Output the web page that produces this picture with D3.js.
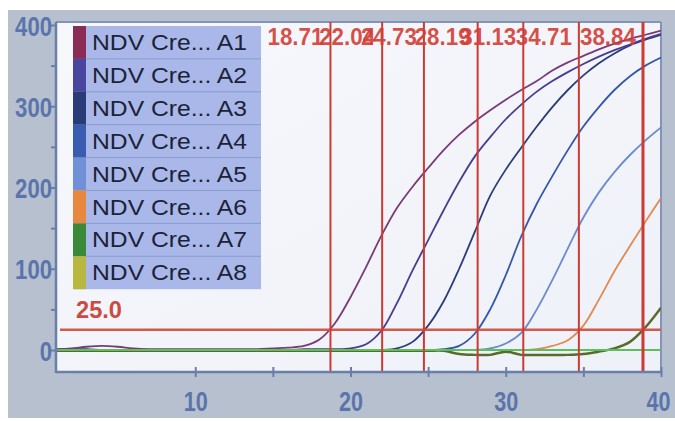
<!DOCTYPE html>
<html>
<head>
<meta charset="utf-8">
<script src="https://cdn.jsdelivr.net/npm/d3@7/dist/d3.min.js"></script>
<style>
  html, body { margin: 0; padding: 0; background: #ffffff; }
  svg { display: block; }
</style>
</head>
<body>
<svg id="chart" width="675" height="421"></svg>
<script>
// ---------------- DATA ----------------
const cycles = d3.range(1, 41);
const seriesNames = ["A1", "A2", "A3", "A4", "A5", "A6", "A7", "A8"];
const legendPrefix = "NDV Cre... ";

const a1 = [1,2,4,5,4,2,1,1,1,1,1,1,1,1,2,3,5,13,33,65,102,141,175,201,224,246,265,281,295,308,320,331,344,354,362,370,377,383,388,393];
const a2 = [0,0,0,0,0,0,0,0,0,0,0,0,0,0,0,0,1,1,1,2,7,24,58,98,135,172,207,238,262,284,302,318,331,342,352,361,369,376,383,389];
const a3 = [1,1,1,0,0,0,0,0,0,0,0,0,0,0,0,0,0,0,0,0,0,0,2,10,30,60,100,145,190,222,249,275,299,320,338,353,365,375,382,388];
const a4 = [0,0,0,0,0,0,0,0,0,0,0,0,0,0,0,0,0,0,0,0,0,0,0,0,0,1,5,20,50,92,140,180,214,246,275,299,320,337,350,360];
const a5 = [0,0,0,0,0,0,0,0,0,0,0,0,0,0,0,0,0,0,0,0,0,0,0,0,0,0,0,0,2,8,21,50,86,125,163,194,219,240,258,274];
const a6 = [0,0,0,0,0,0,0,0,0,0,0,0,0,0,0,0,0,0,0,0,0,0,0,0,0,0,0,0,0,0,0,1,5,12,30,62,97,128,158,187];
const a7 = [0,0,0,0,0,0,0,0,0,0,0,0,0,0,0,0,0,0,0,0,0,0,0,0,0,0,0,0,0,0,0,0,0,0,0,0,0,0,0,0];
const a8 = [-1,-1,-1,-1,-1,-1,-1,-1,-1,-1,-1,-1,-1,-1,-1,-1,-1,-1,-1,-1,-1,-1,-1,-1,-1,-1,-5,-6,-6,-2,-6,-6,-6,-6,-5,-2,2,10,28,52];

const seriesValues = [a1, a2, a3, a4, a5, a6, a7, a8];

const swatchColors = ["#8a2c55", "#4a46a0", "#2a3c78", "#3a5cb0", "#7090d8", "#e8883e", "#3a8a3a", "#b8b840"];
const lineColors   = ["#7a3a78", "#4a3c90", "#2c3c78", "#3458a8", "#6a8ad0", "#e08a50", "#5cbf5c", "#5a6a2a"];

const ctValues = [18.71, 22.04, 24.73, 28.19, 31.13, 34.71, 38.84];
const ctLabels = ["18.71", "22.04", "24.73", "28.19", "31.13", "34.71", "38.84"];
const threshold = 25.0;
const thresholdLabel = "25.0";

const yTickValues = [0, 50, 100, 150, 200, 250, 300, 350, 400];
const yTickLabels = [0, 100, 200, 300, 400];
const xTickValues = [10, 15, 20, 25, 30, 35, 40];
const xTickLabels = [10, 20, 30, 40];

// ---------------- LAYOUT ----------------
const svg = d3.select("#chart");
const plot = { left: 56, right: 661, top: 22, bottom: 372 };

const x = d3.scaleLinear().domain([1, 40]).range([55.5, 661]);
const y = d3.scaleLinear().domain([0, 400]).range([350, 25]);

const axisColor = "#6a7eaa";
const labelColor = "#5a74ac";
const redColor = "#cc3b33";

// background
svg.append("rect").attr("x", 0).attr("y", 0).attr("width", 675).attr("height", 421).attr("fill", "#ffffff");
svg.append("rect").attr("x", 8).attr("y", 10).attr("width", 667).attr("height", 408).attr("fill", "#b7c0ce");

const defs = svg.append("defs");
const grad = defs.append("linearGradient").attr("id", "pbg")
  .attr("x1", 0).attr("y1", 0).attr("x2", 1).attr("y2", 1);
grad.append("stop").attr("offset", "0%").attr("stop-color", "#f7f8fc");
grad.append("stop").attr("offset", "100%").attr("stop-color", "#eef1f8");

svg.append("rect")
  .attr("x", plot.left).attr("y", plot.top)
  .attr("width", plot.right - plot.left).attr("height", plot.bottom - plot.top)
  .attr("fill", "url(#pbg)");

defs.append("clipPath").attr("id", "clip")
  .append("rect").attr("x", plot.left).attr("y", plot.top)
  .attr("width", plot.right - plot.left).attr("height", plot.bottom - plot.top);

// borders top/right
svg.append("line").attr("x1", plot.left).attr("x2", plot.right).attr("y1", plot.top).attr("y2", plot.top)
  .attr("stroke", "#8494b8").attr("stroke-width", 2);
svg.append("line").attr("x1", plot.right).attr("x2", plot.right).attr("y1", plot.top).attr("y2", plot.bottom)
  .attr("stroke", "#8494b8").attr("stroke-width", 2);

const g = svg.append("g").attr("clip-path", "url(#clip)");

// curves
const line = d3.line()
  .x((d, i) => x(cycles[i]))
  .y(d => y(d))
  .curve(d3.curveCatmullRom.alpha(0.5));

// draw order: A8, A6..A1, then A7 flat line on top
const order = [7, 5, 4, 3, 2, 1, 0, 6];
order.forEach(k => {
  g.append("path")
    .datum(seriesValues[k])
    .attr("d", line)
    .attr("fill", "none")
    .attr("stroke", lineColors[k])
    .attr("stroke-width", k === 7 ? 2.5 : 1.8);
});

// threshold line
g.append("line")
  .attr("x1", plot.left + 4).attr("x2", plot.right)
  .attr("y1", y(threshold)).attr("y2", y(threshold))
  .attr("stroke", "#d05a4c").attr("stroke-width", 2.5);

// Ct vertical lines
ctValues.forEach((v, i) => {
  g.append("line")
    .attr("x1", x(v)).attr("x2", x(v))
    .attr("y1", plot.top).attr("y2", plot.bottom)
    .attr("stroke", redColor)
    .attr("stroke-width", i === ctValues.length - 1 ? 3 : 2);
});

// Ct labels
ctLabels.forEach((t, i) => {
  svg.append("text")
    .attr("x", x(ctValues[i]) - 7)
    .attr("y", 45)
    .attr("text-anchor", "end")
    .attr("font-family", "'Liberation Sans', Arial, sans-serif")
    .attr("font-weight", "bold")
    .attr("font-size", 23)
    .attr("textLength", 56)
    .attr("lengthAdjust", "spacingAndGlyphs")
    .attr("fill", "#d23f36")
    .attr("fill-opacity", 0.92)
    .text(t);
});

// threshold label
svg.append("text")
  .attr("x", 76).attr("y", 318)
  .attr("font-family", "'Liberation Sans', Arial, sans-serif")
  .attr("font-weight", "bold")
  .attr("font-size", 23)
  .attr("textLength", 46)
  .attr("lengthAdjust", "spacingAndGlyphs")
  .attr("fill", "#cc4a40")
  .text(thresholdLabel);

// axes
const yAxis = d3.axisLeft(y)
  .tickValues(yTickValues)
  .tickSize(5)
  .tickFormat(d => yTickLabels.includes(d) ? String(d) : "");
const yg = svg.append("g").attr("transform", `translate(${plot.left},0)`).call(yAxis);
yg.select(".domain").remove();
yg.selectAll(".tick line").attr("stroke", axisColor).attr("stroke-width", 2);
yg.selectAll(".tick text")
  .attr("x", -4)
  .attr("dy", null)
  .attr("y", 10)
  .attr("fill", labelColor)
  .attr("font-family", "'Liberation Sans', Arial, sans-serif")
  .attr("font-weight", "bold")
  .attr("font-size", 27)
  .each(function(d) {
    const s = yTickLabels.includes(d) ? String(d) : "";
    if (s) d3.select(this).attr("textLength", 12.3 * s.length).attr("lengthAdjust", "spacingAndGlyphs");
  });

const xAxis = d3.axisBottom(x)
  .tickValues(xTickValues)
  .tickSize(5)
  .tickFormat(d => xTickLabels.includes(d) ? String(d) : "");
const xg = svg.append("g").attr("transform", `translate(0,${plot.bottom})`).call(xAxis);
xg.select(".domain").remove();
xg.selectAll(".tick line").attr("y1", -5).attr("y2", 5).attr("stroke", axisColor).attr("stroke-width", 2);
xg.selectAll(".tick text")
  .attr("y", 39)
  .attr("dy", null)
  .attr("fill", labelColor)
  .attr("font-family", "'Liberation Sans', Arial, sans-serif")
  .attr("font-weight", "bold")
  .attr("font-size", 28)
  .each(function(d) {
    const s = xTickLabels.includes(d) ? String(d) : "";
    if (s) d3.select(this).attr("textLength", 12 * s.length).attr("lengthAdjust", "spacingAndGlyphs");
    if (d === 40) d3.select(this).attr("x", -3);
  });

// axis lines
svg.append("line").attr("x1", plot.left).attr("x2", plot.left).attr("y1", plot.top).attr("y2", plot.bottom + 1)
  .attr("stroke", axisColor).attr("stroke-width", 2.5);
svg.append("line").attr("x1", plot.left).attr("x2", plot.right).attr("y1", plot.bottom).attr("y2", plot.bottom)
  .attr("stroke", axisColor).attr("stroke-width", 2.5);

// legend
const legend = { x: 73, y: 26, w: 188, rowH: 32.9, sw: 13 };
const lg = svg.append("g");
lg.append("rect")
  .attr("x", legend.x).attr("y", legend.y)
  .attr("width", legend.w).attr("height", legend.rowH * seriesNames.length)
  .attr("fill", "#a9b8e8");
seriesNames.forEach((n, i) => {
  const ry = legend.y + i * legend.rowH;
  lg.append("rect")
    .attr("x", legend.x).attr("y", ry)
    .attr("width", legend.sw).attr("height", legend.rowH)
    .attr("fill", swatchColors[i]);
  if (i > 0) {
    lg.append("line")
      .attr("x1", legend.x + legend.sw).attr("x2", legend.x + legend.w)
      .attr("y1", ry).attr("y2", ry)
      .attr("stroke", "#8a9bd0").attr("stroke-width", 1);
  }
  lg.append("text")
    .attr("x", 92).attr("y", ry + 24)
    .attr("font-family", "'Liberation Sans', Arial, sans-serif")
    .attr("font-size", 22)
    .attr("textLength", 155)
    .attr("lengthAdjust", "spacingAndGlyphs")
    .attr("fill", "#1c2338")
    .text(legendPrefix + n);
});
</script>
</body>
</html>
